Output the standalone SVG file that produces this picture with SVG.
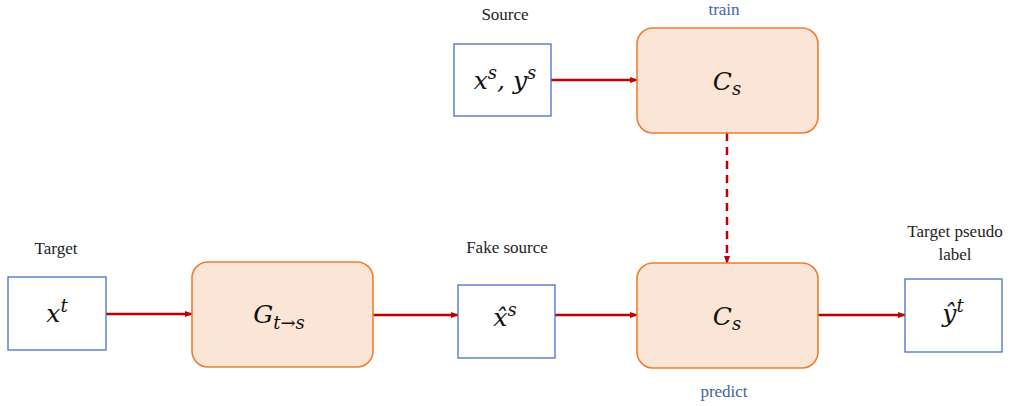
<svg xmlns="http://www.w3.org/2000/svg" width="1020" height="406" viewBox="0 0 1020 406">
<defs>
<marker id="ah" markerWidth="8" markerHeight="8" refX="7" refY="4" orient="auto" markerUnits="userSpaceOnUse">
<path d="M0,1 L8,4 L0,7 Z" fill="#C00000"/>
</marker>
<style>
.data{fill:#fff;stroke:#4472C4;stroke-width:1.3}
.proc{fill:#FBE5D6;stroke:#ED7D31;stroke-width:1.6}
.lbl{font-family:"Liberation Serif","Times New Roman",Times,"DejaVu Serif",serif;font-size:17px;fill:#222;text-anchor:middle}
.blue{fill:#3E64A8}
.math{font-family:"DejaVu Serif","Liberation Serif","Times New Roman",serif;font-style:italic;font-size:25px;fill:#111;text-anchor:middle}
.sup{font-size:18px}
.conn{stroke:#C00000;stroke-width:2.5;fill:none;marker-end:url(#ah)}
.dash{stroke-dasharray:8,6}
</style>
</defs>
<rect width="1020" height="406" fill="#fff"/>
<g id="connectors">
<line class="conn" x1="551" y1="80" x2="637" y2="80"/>
<line class="conn" x1="106" y1="314" x2="192" y2="314"/>
<line class="conn" x1="373" y1="315" x2="458" y2="315"/>
<line class="conn" x1="555" y1="315" x2="637" y2="315"/>
<line class="conn" x1="818" y1="315" x2="905" y2="315"/>
<line class="conn dash" x1="727" y1="133" x2="727" y2="263"/>
</g>
<g id="source">
<text class="lbl" x="505" y="20">Source</text>
<rect class="data" x="454" y="44" width="97" height="72"/>
<text class="math" x="505" y="89">x<tspan class="sup" dy="-10">s</tspan><tspan dy="10">, y</tspan><tspan class="sup" dy="-10">s</tspan></text>
</g>
<g id="cs-train">
<text class="lbl blue" x="724" y="15">train</text>
<rect class="proc" x="637" y="28" width="181" height="105" rx="16"/>
<text class="math" x="727" y="90">C<tspan class="sup" dy="5">s</tspan></text>
</g>
<g id="target">
<text class="lbl" x="56" y="254">Target</text>
<rect class="data" x="8" y="277" width="98" height="73"/>
<text class="math" x="57" y="322">x<tspan class="sup" dy="-10">t</tspan></text>
</g>
<g id="generator">
<rect class="proc" x="192" y="262" width="181" height="105" rx="16"/>
<text class="math" x="279" y="323">G<tspan class="sup" dy="6">t→s</tspan></text>
</g>
<g id="fake-source">
<text class="lbl" x="507" y="253">Fake source</text>
<rect class="data" x="458" y="285" width="97" height="73"/>
<text class="math" x="505" y="326">x̂<tspan class="sup" dy="-10">s</tspan></text>
</g>
<g id="cs-predict">
<rect class="proc" x="637" y="263" width="181" height="105" rx="16"/>
<text class="math" x="727" y="325">C<tspan class="sup" dy="5">s</tspan></text>
<text class="lbl blue" x="724" y="397">predict</text>
</g>
<g id="pseudo-label">
<text class="lbl" x="955" y="237">Target pseudo</text>
<text class="lbl" x="955" y="260">label</text>
<rect class="data" x="905" y="279" width="97" height="73"/>
<text class="math" x="953" y="322">ŷ<tspan class="sup" dy="-10">t</tspan></text>
</g>
</svg>
